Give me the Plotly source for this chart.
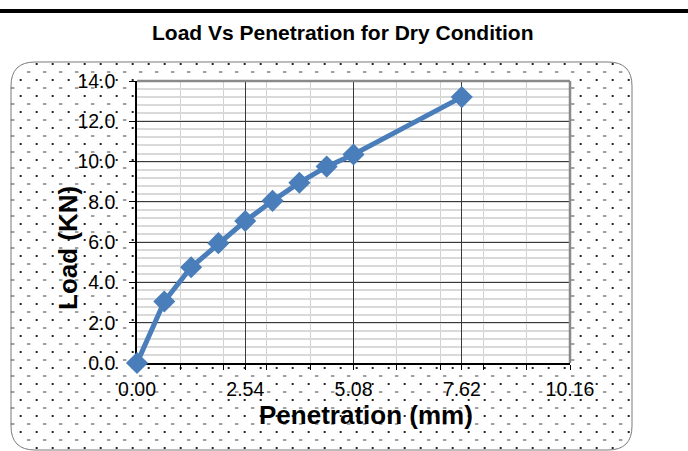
import numpy as np
import plotly.graph_objects as go

# ---- data -------------------------------------------------------------
penetration_mm = [0.00, 0.64, 1.27, 1.91, 2.54, 3.18, 3.81, 4.45, 5.08, 7.62]
load_kn = [0.0, 3.05, 4.75, 5.95, 7.05, 8.05, 8.95, 9.75, 10.35, 13.2]

x_tick_values = [0.00, 2.54, 5.08, 7.62, 10.16]
y_tick_values = [0.0, 2.0, 4.0, 6.0, 8.0, 10.0, 12.0, 14.0]

title_text = "Load Vs Penetration for Dry Condition"
x_title = "Penetration (mm)"
y_title = "Load (KN)"

# ---- page geometry (pixels) ------------------------------------------
W, H = 688, 451
plot_left, plot_right, plot_top, plot_bottom = 137, 570, 81, 363
card_left, card_right, card_top, card_bottom, card_r = 11, 632, 62, 450, 24

FONT = "Liberation Sans, Arial, sans-serif"
BLUE = "#4a7ebb"

# dotted card texture: checkerboard lattice of dots and short dashes
def card_contains(px, py):
    inside = (px > card_left + 1) & (px < card_right - 1) & (py > card_top + 1) & (py < card_bottom - 1)
    for cx, cy in [(card_left + card_r, card_top + card_r), (card_right - card_r, card_top + card_r),
                   (card_left + card_r, card_bottom - card_r), (card_right - card_r, card_bottom - card_r)]:
        in_corner_box = ((px < cx) if cx < W / 2 else (px > cx)) & ((py < cy) if cy < H / 2 else (py > cy))
        too_far = np.hypot(px - cx, py - cy) > card_r - 1.5
        inside &= ~(in_corner_box & too_far)
    return inside

def outside_plot(px, py):
    return ~((px > plot_left - 2) & (px < plot_right + 2) & (py > plot_top - 2) & (py < plot_bottom + 2))

def lattice(x0, y0):
    gx, gy = np.meshgrid(np.arange(x0, W, 16.0), np.arange(y0, H, 16.0))
    gx, gy = gx.ravel(), gy.ravel()
    keep = card_contains(gx, gy) & outside_plot(gx, gy)
    return gx[keep], gy[keep]

dot_x, dot_y = lattice(20.7, 64.0)
dash_x, dash_y = lattice(12.7, 56.0)

fig = go.Figure()

fig.add_trace(go.Scatter(
    x=dot_x, y=dot_y, mode="markers", xaxis="x", yaxis="y",
    marker=dict(symbol="square", size=2, color="#222222", line=dict(width=0)),
    hoverinfo="skip", showlegend=False,
))
fig.add_trace(go.Scatter(
    x=dash_x, y=dash_y, mode="markers", xaxis="x", yaxis="y",
    marker=dict(symbol="line-ew", size=2.5, color="#444444", line=dict(width=1, color="#444444")),
    hoverinfo="skip", showlegend=False,
))

# load-penetration curve
fig.add_trace(go.Scatter(
    x=penetration_mm, y=load_kn, mode="lines+markers", xaxis="x2", yaxis="y2",
    line=dict(color=BLUE, width=5),
    marker=dict(symbol="diamond", size=17, color=BLUE),
    cliponaxis=False, showlegend=False,
))

dom_x = [plot_left / W, plot_right / W]
dom_y = [1 - plot_bottom / H, 1 - plot_top / H]

fig.update_layout(
    width=W, height=H,
    margin=dict(l=0, r=0, t=0, b=0, pad=0),
    paper_bgcolor="white",
    plot_bgcolor="rgba(0,0,0,0)",
    showlegend=False,
    xaxis=dict(domain=[0, 1], range=[0, W], visible=False, fixedrange=True, automargin=False),
    yaxis=dict(domain=[0, 1], range=[H, 0], visible=False, fixedrange=True, automargin=False),
    xaxis2=dict(
        domain=dom_x, anchor="y2", range=[0, 10.16], automargin=False,
        tickmode="array", tickvals=x_tick_values,
        ticktext=[f"{v:.2f}" for v in x_tick_values],
        ticks="outside", ticklen=5, tickwidth=1, tickcolor="black",
        showline=True, linecolor="black", linewidth=1.5,
        showgrid=True, gridcolor="#3a3a3a", gridwidth=1, zeroline=False,
        layer="below traces",
        tickfont=dict(family=FONT, size=19.5, color="black"),
        ticklabelstandoff=3,
        minor=dict(tick0=0, dtick=1.016, ticks="outside", ticklen=5, tickcolor="black",
                   showgrid=True, gridcolor="#d2d2d2", gridwidth=1),
    ),
    yaxis2=dict(
        domain=dom_y, anchor="x2", range=[0, 14], automargin=False,
        tickmode="array", tickvals=y_tick_values,
        ticktext=[f"{v:.1f}" for v in y_tick_values],
        ticks="outside", ticklen=6, tickwidth=1, tickcolor="black",
        showline=True, linecolor="black", linewidth=1.5,
        showgrid=True, gridcolor="#3a3a3a", gridwidth=1, zeroline=False,
        layer="below traces",
        tickfont=dict(family=FONT, size=19.5, color="black"),
        ticklabelstandoff=10,
        minor=dict(tick0=0, dtick=0.4, ticks="", showgrid=True, gridcolor="#d9d9d9", gridwidth=2),
    ),
)

shapes = [
    # rule across the top of the page
    dict(type="rect", xref="x", yref="y", x0=0, x1=W, y0=9, y1=13,
         fillcolor="black", line=dict(width=0), layer="above"),
    # rounded chart card
    dict(type="path", xref="x", yref="y", layer="below",
         path=(f"M {card_left + card_r},{card_top} L {card_right - card_r},{card_top} "
               f"Q {card_right},{card_top} {card_right},{card_top + card_r} "
               f"L {card_right},{card_bottom - card_r} "
               f"Q {card_right},{card_bottom} {card_right - card_r},{card_bottom} "
               f"L {card_left + card_r},{card_bottom} "
               f"Q {card_left},{card_bottom} {card_left},{card_bottom - card_r} "
               f"L {card_left},{card_top + card_r} "
               f"Q {card_left},{card_top} {card_left + card_r},{card_top} Z"),
         line=dict(color="#7a7a7a", width=1), fillcolor="rgba(0,0,0,0)"),
    # grey frame on the top and right of the plot area
    dict(type="line", xref="x2 domain", yref="y2 domain", x0=0, x1=1, y0=1, y1=1,
         line=dict(color="#8a8a8a", width=2.5), layer="above"),
    dict(type="line", xref="x2 domain", yref="y2 domain", x0=1, x1=1, y0=0, y1=1,
         line=dict(color="#8a8a8a", width=2.5), layer="above"),
]
fig.update_layout(shapes=shapes)

fig.update_layout(annotations=[
    dict(text=f"<b>{title_text}</b>", xref="paper", yref="paper",
         x=342.5 / W, y=1 - 33 / H, xanchor="center", yanchor="middle", showarrow=False,
         font=dict(family=FONT, size=21, color="black")),
    dict(text=f"<b>{x_title}</b>", xref="paper", yref="paper",
         x=366 / W, y=1 - 415 / H, xanchor="center", yanchor="middle", showarrow=False,
         font=dict(family=FONT, size=26, color="black")),
    dict(text=f"<b>{y_title}</b>", xref="paper", yref="paper", textangle=-90,
         x=68 / W, y=1 - 248 / H, xanchor="center", yanchor="middle", showarrow=False,
         font=dict(family=FONT, size=26, color="black")),
])

fig.write_html("out.html")
